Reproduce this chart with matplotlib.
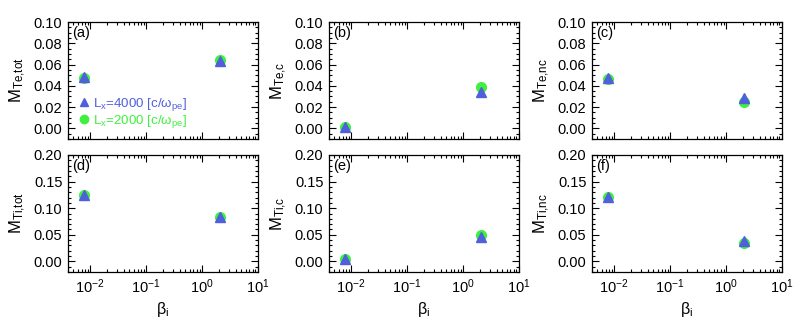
import numpy as np
import matplotlib
matplotlib.use('Agg')
import matplotlib.pyplot as plt
from matplotlib.lines import Line2D
from matplotlib.ticker import MultipleLocator, LogLocator, NullFormatter

plt.rcParams['font.family'] = ['Liberation Sans', 'DejaVu Sans']
plt.rcParams['mathtext.fontset'] = 'custom'
plt.rcParams['mathtext.rm'] = 'Liberation Sans'
plt.rcParams['mathtext.it'] = 'Liberation Sans:italic'
plt.rcParams['font.size'] = 10.5

# data
beta_i = [0.0078, 2.1]
labels = ['(a)', '(b)', '(c)', '(d)', '(e)', '(f)']
ylabels = [r'$\mathrm{M_{Te{,}tot}}$', r'$\mathrm{M_{Te{,}c}}$', r'$\mathrm{M_{Te{,}nc}}$',
           r'$\mathrm{M_{Ti{,}tot}}$', r'$\mathrm{M_{Ti{,}c}}$', r'$\mathrm{M_{Ti{,}nc}}$']
m_4000 = [[0.048, 0.063], [0.001, 0.034], [0.047, 0.029],
          [0.124, 0.083], [0.004, 0.045], [0.121, 0.039]]
m_2000 = [[0.047, 0.064], [0.001, 0.039], [0.046, 0.025],
          [0.124, 0.084], [0.004, 0.050], [0.121, 0.034]]

blue = '#5060dc'
green = '#40f040'

W, H = 802, 322
fig = plt.figure(figsize=(W / 100, H / 100), dpi=100)
lefts = [68, 329, 592]
tops = [22, 155]
w_px, h_px = 190, 117

for k in range(6):
    row, col = divmod(k, 3)
    ax = fig.add_axes([lefts[col] / W, (H - tops[row] - h_px) / H, w_px / W, h_px / H])
    ax.set_xscale('log')
    ax.set_xlim(0.004, 10)
    ax.plot(beta_i, m_2000[k], 'o', color=green, ms=7, mec=green, ls='none')
    ax.plot(beta_i, m_4000[k], '^', color=blue, ms=6.5, mec=blue, ls='none')
    if row == 0:
        ax.set_ylim(-0.01, 0.10)
        ax.yaxis.set_minor_locator(MultipleLocator(0.005))
        ax.set_yticks(np.arange(0, 0.101, 0.02))
        ax.set_yticklabels(['%.2f' % v for v in np.arange(0, 0.101, 0.02)])
        ax.xaxis.set_major_formatter(NullFormatter())
    else:
        ax.set_ylim(-0.02, 0.20)
        ax.yaxis.set_minor_locator(MultipleLocator(0.01))
        ax.set_yticks(np.arange(0, 0.201, 0.05))
        ax.set_yticklabels(['%.2f' % v for v in np.arange(0, 0.201, 0.05)])
        ax.set_xlabel(r'$\mathrm{\beta_i}$', fontsize=11.5, labelpad=3)
    ax.xaxis.set_major_locator(LogLocator(base=10, numticks=10))
    ax.xaxis.set_minor_locator(LogLocator(base=10, subs=np.arange(2, 10), numticks=10))
    ax.xaxis.set_minor_formatter(NullFormatter())
    ax.tick_params(which='both', direction='in', top=True, right=True, width=0.8)
    ax.tick_params(which='major', length=5, pad=4)
    ax.tick_params(which='minor', length=2.5)
    for s in ax.spines.values():
        s.set_linewidth(0.9)
    ax.set_ylabel(ylabels[k], fontsize=12, labelpad=4)
    ax.text(0.02, 0.97, labels[k], transform=ax.transAxes, ha='left', va='top', fontsize=10.5)
    if k == 0:
        handles = [Line2D([], [], marker='^', color=blue, ls='none', ms=6),
                   Line2D([], [], marker='o', color=green, ls='none', ms=6)]
        leg = ax.legend(handles, [r'$\mathrm{L_x}$=4000 [c/$\mathrm{\omega_{pe}}$]',
                                  r'$\mathrm{L_x}$=2000 [c/$\mathrm{\omega_{pe}}$]'],
                        loc='lower left', frameon=False, fontsize=9.6,
                        handletextpad=0.2, handlelength=0.9, borderaxespad=0.1,
                        labelspacing=0.03, bbox_to_anchor=(0.02, 0.02))
        for t, c in zip(leg.get_texts(), [blue, green]):
            t.set_color(c)

fig.savefig('out.png', dpi=100)
